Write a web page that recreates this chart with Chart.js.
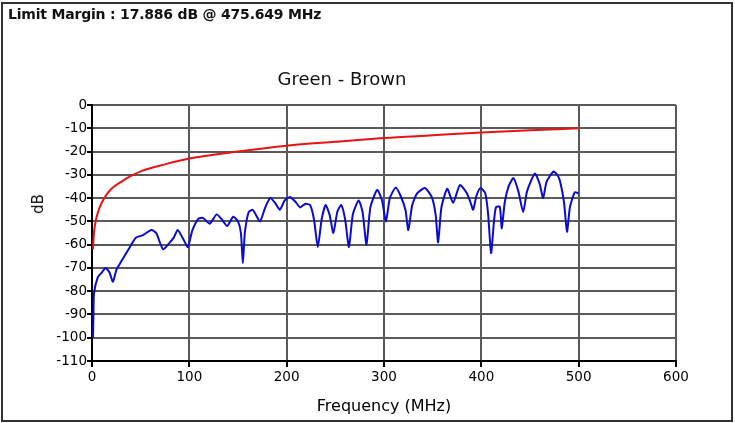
<!DOCTYPE html>
<html>
<head>
<meta charset="utf-8">
<script src="https://cdn.jsdelivr.net/npm/chart.js@4.4.1/dist/chart.umd.min.js"></script>
<style>
    html, body { margin: 0; padding: 0; background: #fff; }
    #wrap { position: relative; width: 735px; height: 423px; }
    #frame { position: absolute; left: 1px; top: 2px; width: 728px; height: 416px; border: 2px solid #333; box-sizing: content-box; }
    #margin_text { position: absolute; left: 8px; top: 6px; font: bold 14px "DejaVu Sans", sans-serif; line-height: 16px; letter-spacing: -0.2px; color: #111; white-space: nowrap; }
    #chart_title { position: absolute; left: 0; width: 684px; top: 69px; text-align: center; font: 18px "DejaVu Sans", sans-serif; line-height: 20px; color: #111; }
    #y_title { position: absolute; left: 38px; top: 204px; font: 15px "DejaVu Sans", sans-serif; line-height: 16px; color: #111; transform: translate(-50%, -50%) rotate(-90deg); }
    canvas { position: absolute; left: 0; top: 0; }
</style>
</head>
<body>
<div id="wrap">
    <div id="frame"></div>
    <canvas id="margin_chart" width="735" height="423"></canvas>
    <div id="margin_text">Limit Margin : 17.886 dB @ 475.649 MHz</div>
    <div id="chart_title">Green - Brown</div>
    <div id="y_title">dB</div>
</div>
<script>
// limit curve (MHz, dB)
const limit_freq = [1, 2, 4, 7, 10, 15, 20, 30, 40, 50, 75, 100, 150, 200, 250, 300, 350, 400, 450, 500];
const limit_db = [-62, -55, -49.5, -45, -42, -38.5, -36, -33, -30.5, -28.5, -25.5, -23, -20, -17.5, -15.8, -14.2, -13, -11.8, -10.8, -10];

// measured pair (MHz, dB)
const meas_freq = [1, 1.5, 2, 6, 10, 14, 18, 21.5, 25, 29, 34, 39, 45, 52, 61, 66, 73, 80, 84, 88, 93, 98.5,
    103, 109, 114, 121, 128, 133, 139, 145, 150, 153, 155, 157, 161, 165, 167.5, 172.6, 178, 183, 188, 193, 198,
    203.5, 209, 214, 219, 224, 228, 232, 236, 240, 244, 248, 252, 256, 260, 264, 268, 274, 278, 282, 286, 293, 298,
    302, 306, 312, 317, 322, 325, 329, 334, 342, 349, 353, 355.6, 359, 365, 371, 378, 385, 389, 391.6, 395, 399,
    404, 407, 410, 413, 415, 419, 421, 424, 428, 433, 438, 443, 447, 455, 460, 463.5, 467, 474, 478, 481, 485,
    488, 491, 496, 500];
const meas_db = [-100, -90, -81, -74, -72, -70, -72, -76, -71, -68, -64.5, -61, -57, -56, -53.7, -55, -62, -59, -57, -53.7, -57, -61,
    -54, -49, -48.5, -51, -47, -49, -52, -48, -50, -55, -68, -55, -46, -45, -46.5, -50, -44, -40, -42, -45, -41,
    -39.5, -41.6, -44, -42.5, -43, -49, -61, -49, -43, -47, -55, -46, -43, -49, -61, -47, -41, -46, -60, -44, -36.5, -41,
    -50, -40, -35.5, -39, -45, -53.7, -43, -38, -35.7, -39.5, -47, -59, -44, -36, -42, -34.4, -37.8, -42, -45, -39, -35.7,
    -37.8, -47, -63.6, -50, -44, -43.7, -53, -42, -35, -31.4, -37, -46, -37, -29.5, -34, -40, -33, -28.6, -30, -33, -42,
    -54.5, -44, -37.5, -38];

const x_ticks_max = 600;
const y_ticks_min = -110;

function toPoints(xs, ys){
    const pts = [];
    xs.forEach((x, i) => pts.push({x: x, y: ys[i]}));
    return pts;
}

const font_family = '"DejaVu Sans", sans-serif';
const ctx = document.getElementById('margin_chart').getContext('2d');
const margin_chart = new Chart(ctx, {
    type: 'line',
    data: {
        datasets: [{
            label: 'Limit',
            data: toPoints(limit_freq, limit_db),
            borderColor: 'rgb(230, 20, 20)',
            borderWidth: 2,
            pointRadius: 0,
            cubicInterpolationMode: 'monotone',
            fill: false
        }, {
            label: 'Green - Brown',
            data: toPoints(meas_freq, meas_db),
            borderColor: 'rgb(10, 10, 210)',
            borderWidth: 2,
            pointRadius: 0,
            tension: 0.2,
            fill: false
        }]
    },
    options: {
        responsive: false,
        animation: false,
        layout: { padding: { left: 32, right: 59, top: 105, bottom: 0 } },
        plugins: {
            legend: { display: false },
            tooltip: { enabled: false }
        },
        scales: {
            x: {
                type: 'linear',
                min: 0,
                max: x_ticks_max,
                ticks: { stepSize: 100, color: '#000', padding: 2, maxRotation: 0, font: { family: font_family, size: 13.5 } },
                grid: { color: '#5a5a5a', lineWidth: 2, tickColor: '#000', tickLength: 6 },
                border: { color: '#000', width: 2 },
                title: { display: true, text: 'Frequency (MHz)', color: '#000', padding: { top: 0, bottom: 7 }, font: { family: font_family, size: 16 } },
                afterFit: scale => { scale.height = 62; }
            },
            y: {
                min: y_ticks_min,
                max: 0,
                ticks: { stepSize: 10, color: '#000', padding: 0, font: { family: font_family, size: 13.5 } },
                grid: { color: '#5a5a5a', lineWidth: 2, tickColor: '#000', tickLength: 5 },
                border: { color: '#000', width: 2 },
                title: { display: false },
                afterFit: scale => { scale.width = 60; }
            }
        }
    }
});
</script>
</body>
</html>
